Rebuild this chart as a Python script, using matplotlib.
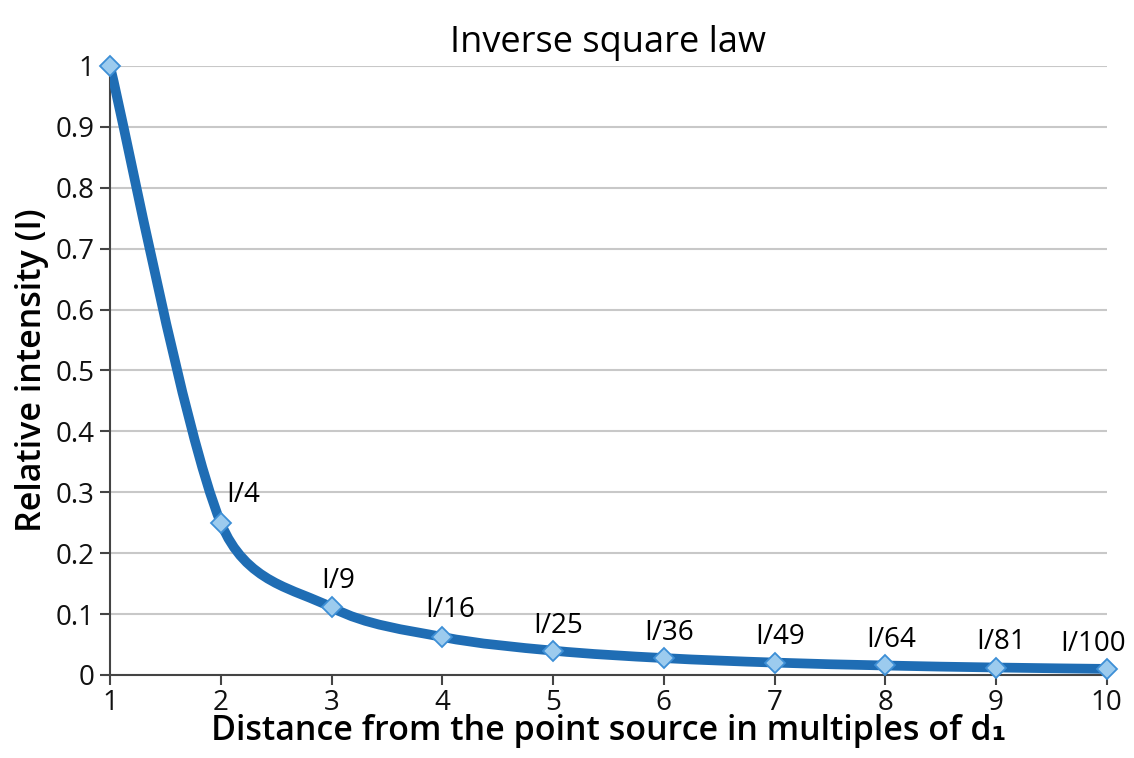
import numpy as np
import matplotlib.pyplot as plt
from matplotlib.path import Path
from matplotlib.patches import PathPatch

# data
distance = [1, 2, 3, 4, 5, 6, 7, 8, 9, 10]
intensity = [1.0, 0.25, 0.111, 0.0625, 0.04, 0.0278, 0.0204, 0.0156, 0.0123, 0.01]
point_labels = ['', 'I/4', 'I/9', 'I/16', 'I/25', 'I/36', 'I/49', 'I/64', 'I/81', 'I/100']

plt.rcParams['font.family'] = ['Open Sans', 'DejaVu Sans']

line_color = '#1f6db4'
marker_face = '#9ccbee'
marker_edge = '#3d8fd6'

fig = plt.figure(figsize=(11.34, 7.58), dpi=100)
ax = fig.add_axes([0.097, 0.1095, 0.879, 0.8035])
ax.set_xlim(1, 10)
ax.set_ylim(0, 1)

# smoothed line like Excel: Bezier through the points, built in screen space
pts = ax.transData.transform(np.column_stack([distance, intensity]))
n = len(pts)
verts = [pts[0]]
codes = [Path.MOVETO]
for i in range(n - 1):
    p0 = pts[max(i - 1, 0)]
    p1 = pts[i]
    p2 = pts[i + 1]
    p3 = pts[min(i + 2, n - 1)]
    d01 = np.linalg.norm(p1 - p0)
    d12 = np.linalg.norm(p2 - p1)
    d23 = np.linalg.norm(p3 - p2)
    k1 = np.sqrt(2 * d12 / (d01 + d12)) if d01 > 0 else 1.0
    k2 = np.sqrt(2 * d12 / (d12 + d23)) if d23 > 0 else 1.0
    c1 = p1 + (p2 - p0) / 6 * min(k1, 1.0)
    c2 = p2 - (p3 - p1) / 6 * min(k2, 1.0)
    verts += [c1, c2, p2]
    codes += [Path.CURVE4] * 3
verts = ax.transData.inverted().transform(np.array(verts))
ax.add_patch(PathPatch(Path(verts, codes), facecolor='none', edgecolor=line_color,
                       lw=7, capstyle='round', joinstyle='round', zorder=3))

ax.plot(distance, intensity, linestyle='none', marker='D', markersize=10,
        markerfacecolor=marker_face, markeredgecolor=marker_edge, markeredgewidth=1.3,
        zorder=4, clip_on=False)

offsets = [(0, 0), (16, 10), (5, 9), (6, 9), (4, 8), (4, 8), (4, 8), (4, 8), (4, 8), (-10, 8)]
for xi, yi, lab, off in zip(distance, intensity, point_labels, offsets):
    if lab:
        ax.annotate(lab, (xi, yi), xytext=off, textcoords='offset points',
                    ha='center', va='bottom', fontsize=20, fontweight=500, color='#000000')

ax.set_xticks(distance)
ax.set_yticks(np.arange(0, 1.01, 0.1))
ax.set_yticklabels(['0', '0.1', '0.2', '0.3', '0.4', '0.5', '0.6', '0.7', '0.8', '0.9', '1'])
ax.yaxis.grid(True, color='#c8c8c8', lw=1.5)
ax.set_axisbelow(True)
for s in ['top', 'right']:
    ax.spines[s].set_visible(False)
for s in ['left', 'bottom']:
    ax.spines[s].set_color('#444444')
    ax.spines[s].set_linewidth(1.5)
ax.tick_params(axis='both', direction='out', length=7, width=1.5, color='#444444',
               labelsize=20, labelcolor='#111111')
ax.tick_params(axis='x', pad=3)
ax.tick_params(axis='y', pad=4)
for lbl in ax.get_xticklabels() + ax.get_yticklabels():
    lbl.set_fontweight(500)

ax.set_title('Inverse square law', fontsize=26, fontweight=500, pad=10, color='#000000')
ax.set_xlabel('Distance from the point source in multiples of d\u2081', fontsize=24.5,
              fontweight='semibold', labelpad=-2, color='#000000')
ax.set_ylabel('Relative intensity (I)', fontsize=24.5, fontweight='semibold', labelpad=5,
              color='#000000')

fig.savefig('out.png', dpi=100)
